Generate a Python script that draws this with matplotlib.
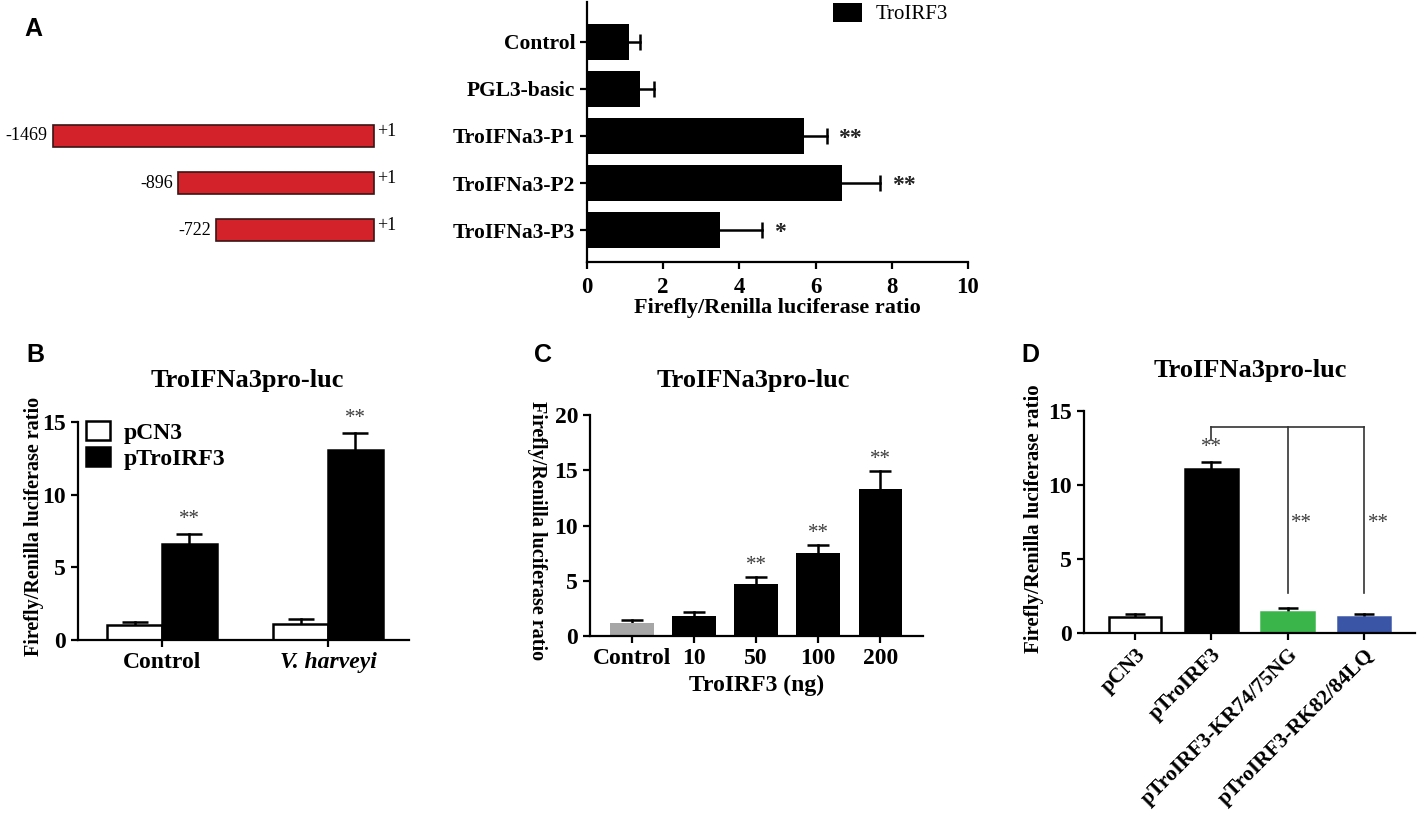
import numpy as np
import matplotlib
matplotlib.use('Agg')
import matplotlib.pyplot as plt
from matplotlib.patches import Patch

plt.rcParams['font.family'] = ['Liberation Serif', 'DejaVu Serif']
plt.rcParams['font.weight'] = 'bold'
plt.rcParams['axes.labelweight'] = 'bold'
plt.rcParams['axes.linewidth'] = 1.6

# panel A: promoter deletion constructs
a_labels = ['Control', 'PGL3-basic', 'TroIFNa3-P1', 'TroIFNa3-P2', 'TroIFNa3-P3']
a_vals = [1.1, 1.4, 5.7, 6.7, 3.5]
a_err = [0.3, 0.35, 0.6, 1.0, 1.1]
a_stars = ['', '', '**', '**', '*']
prom_rows = ['TroIFNa3-P1', 'TroIFNa3-P2', 'TroIFNa3-P3']
prom_start = [-1469, -896, -722]
prom_end = [1, 1, 1]

# panel B
b_groups = ['Control', 'V. harveyi']
b_pcn3 = [1.0, 1.1]
b_pcn3_err = [0.25, 0.35]
b_irf3 = [6.6, 13.1]
b_irf3_err = [0.7, 1.15]
b_stars = ['**', '**']

# panel C
c_doses = ['Control', '10', '50', '100', '200']
c_vals = [1.2, 1.8, 4.75, 7.5, 13.3]
c_err = [0.25, 0.4, 0.55, 0.7, 1.6]
c_stars = ['', '', '**', '**', '**']

# panel D
d_labels = ['pCN3', 'pTroIRF3', 'pTroIRF3-KR74/75NG', 'pTroIRF3-RK82/84LQ']
d_vals = [1.08, 11.1, 1.45, 1.05]
d_err = [0.2, 0.45, 0.25, 0.25]
d_colors = ['white', 'black', '#39b54a', '#3a55a6']

W, H = 1419, 815
fig = plt.figure(figsize=(W / 100, H / 100), dpi=100)


def box(l, t, r, b):
    return [l / W, 1 - b / H, (r - l) / W, (b - t) / H]


def style(ax, size):
    ax.spines['top'].set_visible(False)
    ax.spines['right'].set_visible(False)
    ax.tick_params(direction='out', length=5, width=1.6, labelsize=size)


def upper_err(ax, pos, vals, errs, cap, horizontal=False):
    # one-sided error bars: stem plus a single cap at the tip
    for p, v, e in zip(pos, vals, errs):
        if horizontal:
            ax.plot([v, v + e], [p, p], color='black', lw=1.8, zorder=1)
            ax.plot(v + e, p, marker='|', ms=cap, mew=1.8, color='black', zorder=1)
        else:
            ax.plot([p, p], [v, v + e], color='black', lw=1.8, zorder=1)
            ax.plot(p, v + e, marker='_', ms=cap, mew=1.8, color='black', zorder=1)


ylab = 'Firefly/Renilla luciferase ratio'
star_col = '#3c3c3c'

# ---- A ----
a_ylim = (-0.68, 4.85)
axa = fig.add_axes(box(587, 2, 968, 262))
ya = np.arange(len(a_labels))[::-1]
axa.barh(ya, a_vals, height=0.75, color='black', zorder=2)
upper_err(axa, ya, a_vals, a_err, 12, horizontal=True)
for y, v, e, s in zip(ya, a_vals, a_err, a_stars):
    if s:
        axa.text(v + e + 0.3, y - 0.05, s, ha='left', va='center', fontsize=17, color='#222222')
axa.set_xlim(0, 10)
axa.set_ylim(*a_ylim)
axa.set_xticks(range(0, 11, 2))
axa.set_yticks(ya)
axa.set_yticklabels(a_labels)
style(axa, 15.5)
axa.tick_params(axis='x', labelsize=16.5, pad=6)
axa.set_xlabel(ylab, fontsize=16, va='center')
axa.xaxis.set_label_coords(0.5, -0.177)
axa.legend(handles=[Patch(facecolor='black', label='TroIRF3')], loc='upper left',
           bbox_to_anchor=(833 / W, 1 - 3 / H), bbox_transform=fig.transFigure,
           frameon=False, handlelength=1.4, handleheight=1.0, handletextpad=0.65,
           borderpad=0, borderaxespad=0,
           prop=dict(family='Liberation Serif', weight='normal', size=15))

# promoter schematic
axr = fig.add_axes(box(0, 2, 580, 262))
pxbp = (374 - 53) / 1470
axr.set_xlim(1 - 374 / pxbp, 1 + (580 - 374) / pxbp)
axr.set_ylim(*a_ylim)
axr.axis('off')
yr = [ya[a_labels.index(r)] for r in prom_rows]
axr.barh(yr, np.array(prom_end) - np.array(prom_start), left=prom_start, height=0.45,
         color='#d4222a', edgecolor='#3b1515', linewidth=1.2)
for y, s, e in zip(yr, prom_start, prom_end):
    axr.text(s - 25, y, str(s), ha='right', va='center', fontsize=13, fontweight='normal')
    axr.text(e + 15, y + 0.1, '+%d' % e, ha='left', va='center', fontsize=13, fontweight='normal')

# ---- B ----
axb = fig.add_axes(box(78, 422, 409, 640))
xb = np.arange(len(b_groups))
bw = 0.33
axb.bar(xb - bw / 2, b_pcn3, width=bw, color='white', edgecolor='black', linewidth=1.8,
        label='pCN3', zorder=2)
axb.bar(xb + bw / 2, b_irf3, width=bw, color='black', edgecolor='black', linewidth=1.8,
        label='pTroIRF3', zorder=2)
upper_err(axb, xb - bw / 2, b_pcn3, b_pcn3_err, 19)
upper_err(axb, xb + bw / 2, b_irf3, b_irf3_err, 19)
for x, v, e, s in zip(xb, b_irf3, b_irf3_err, b_stars):
    axb.text(x + bw / 2, v + e + 0.35, s, ha='center', va='bottom', fontsize=15,
             fontweight='normal', color=star_col)
axb.set_xlim(-0.506, 1.488)
axb.set_ylim(0, 15)
axb.set_yticks([0, 5, 10, 15])
axb.set_xticks(xb)
axb.set_xticklabels(b_groups)
axb.get_xticklabels()[1].set_style('italic')
style(axb, 17)
axb.set_ylabel(ylab, fontsize=14.5, va='center')
axb.yaxis.set_label_coords(-0.133, 0.52)
axb.legend(loc='upper left', bbox_to_anchor=(86 / W, 1 - 421 / H), bbox_transform=fig.transFigure,
           frameon=False, handlelength=1.0, handleheight=0.85, handletextpad=0.6,
           labelspacing=0.15, borderpad=0, borderaxespad=0, fontsize=17)
fig.text(247 / W, 1 - 380 / H, 'TroIFNa3pro-luc', ha='center', va='center', fontsize=19)

# ---- C ----
axc = fig.add_axes(box(590, 415, 923, 636))
xc = np.arange(len(c_doses))
axc.bar(xc, c_vals, width=0.7, color=['#a6a6a6'] + ['black'] * (len(c_vals) - 1), zorder=2)
upper_err(axc, xc, c_vals, c_err, 16)
for x, v, e, s in zip(xc, c_vals, c_err, c_stars):
    if s:
        axc.text(x, v + e + 0.25, s, ha='center', va='bottom', fontsize=15,
                 fontweight='normal', color=star_col)
axc.set_xlim(-0.68, 4.69)
axc.set_ylim(0, 20)
axc.set_yticks([0, 5, 10, 15, 20])
axc.set_xticks(xc)
axc.set_xticklabels(c_doses)
style(axc, 17)
axc.set_xlabel('TroIRF3 (ng)', fontsize=17, va='center')
axc.xaxis.set_label_coords(0.5, -0.222)
axc.set_ylabel(ylab, fontsize=14.5, rotation=270, va='center')
axc.yaxis.set_label_coords(-0.159, 0.475)
fig.text(753 / W, 1 - 380 / H, 'TroIFNa3pro-luc', ha='center', va='center', fontsize=19)

# ---- D ----
axd = fig.add_axes(box(1084, 411, 1415, 633))
xd = np.arange(len(d_labels))
axd.bar(xd, d_vals, width=0.69, color=d_colors,
        edgecolor=['black', 'black', '#39b54a', '#3a55a6'], linewidth=1.8, zorder=2)
upper_err(axd, xd, d_vals, d_err, 14)
bracket_y = 13.9
axd.plot([1, 3], [bracket_y, bracket_y], color='#333333', lw=1.2)
axd.plot([1, 1], [bracket_y, 13.05], color='#333333', lw=1.2)
for x in [2, 3]:
    axd.plot([x, x], [bracket_y, 2.7], color='#333333', lw=1.2)
    axd.text(x + 0.05, 7.4, '**', ha='left', va='center', fontsize=15,
             fontweight='normal', color=star_col)
axd.text(1, 12.5, '**', ha='center', va='center', fontsize=15, fontweight='normal', color=star_col)
axd.set_xlim(-0.67, 3.67)
axd.set_ylim(0, 15)
axd.set_yticks([0, 5, 10, 15])
axd.set_xticks(xd)
axd.set_xticklabels(d_labels, rotation=45, ha='right', rotation_mode='anchor')
style(axd, 17)
for t in axd.get_xticklabels():
    t.set_fontsize(15.5)
axd.set_ylabel(ylab, fontsize=15, va='center')
axd.yaxis.set_label_coords(-0.151, 0.513)
fig.text(1250 / W, 1 - 370 / H, 'TroIFNa3pro-luc', ha='center', va='center', fontsize=19)

# panel letters
for lab, x, y in [('A', 33, 29), ('B', 35, 355), ('C', 543, 355), ('D', 1030, 355)]:
    fig.text(x / W, 1 - y / H, lab, ha='center', va='center', fontsize=18,
             family='Liberation Sans', fontweight='bold')

fig.savefig('out.png', dpi=100)
